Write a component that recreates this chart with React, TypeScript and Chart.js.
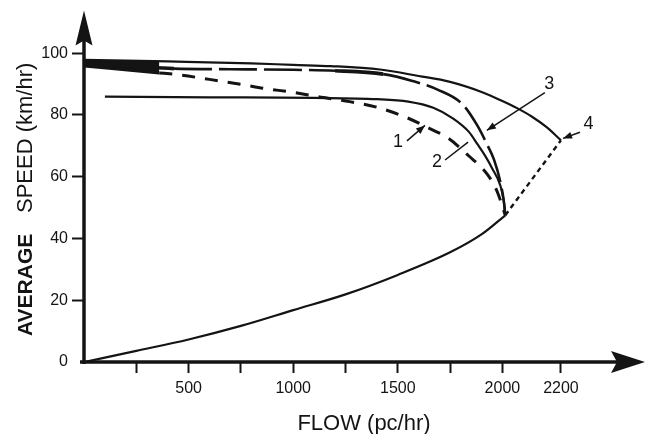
import React, { useEffect, useRef } from 'react';
import { Chart, LinearScale, registerables } from 'chart.js';

// Speed–flow relationships: flow in pc/hr, average speed in km/hr
const curve4Flow = [0, 400, 800, 1000, 1180, 1415, 1600, 1750, 1910, 2000, 2050, 2100, 2150, 2200];
const curve4Speed = [97.8, 97.3, 96.7, 96.2, 95.8, 94.7, 92.6, 90.7, 87.2, 84.5, 82.2, 79.5, 76.1, 71.8];
const curve4UnstableFlow = [2010, 2200];
const curve4UnstableSpeed = [47.5, 71.8];
const curve3Flow = [0, 430, 700, 1000, 1200, 1430, 1570, 1690, 1810, 1880, 1930, 1960, 1990, 2005, 2010];
const curve3Speed = [96.8, 95.0, 94.8, 94.6, 94.3, 93.2, 91.0, 88.2, 83.4, 76.6, 70.0, 65.5, 58.4, 52.0, 47.5];
const curve2Flow = [100, 600, 1100, 1400, 1550, 1670, 1765, 1840, 1880, 1920, 1952, 1990, 2005, 2010];
const curve2Speed = [85.9, 85.7, 85.5, 85.1, 84.3, 82.3, 78.8, 74.5, 70.6, 66.5, 62.6, 57.2, 52.0, 47.5];
const curve1Flow = [0, 360, 450, 600, 750, 870, 990, 1120, 1270, 1400, 1540, 1640, 1740, 1840, 1930, 1975, 2010];
const curve1Speed = [95.8, 93.6, 93.0, 91.5, 89.9, 88.5, 87.4, 85.9, 84.3, 82.5, 79.2, 76.0, 72.5, 66.7, 60.6, 55.2, 47.5];
const congestedFlow = [0, 250, 500, 750, 1000, 1250, 1500, 1750, 1900, 2010];
const congestedSpeed = [0, 3.6, 7.3, 11.7, 16.8, 21.9, 28.2, 35.5, 41.3, 47.5];

// Axis ticks
const X_TICKS = [250, 500, 750, 1000, 1250, 1500, 1750, 2000, 2200];
const X_LABELLED = [500, 1000, 1500, 2000, 2200];
const Y_TICKS = [0, 20, 40, 60, 80, 100];

// Curve call-outs: label text, label position, leader line start/end
const calloutText = ['1', '2', '3', '4'];
const calloutFlow = [1501, 1687, 2160, 2294];
const calloutSpeed = [71.2, 64.7, 90.0, 76.9];
const leaderFromFlow = [1544, 1726, 2145, 2265];
const leaderFromSpeed = [71.6, 65.4, 87.2, 74.4];
const leaderToFlow = [1630, 1836, 1926, 2207];
const leaderToSpeed = [76.6, 71.2, 75.0, 72.4];
const leaderHead = [true, false, true, true];

const INK = '#141414';
const FONT = '"Liberation Sans", Arial, Helvetica, sans-serif';

// The flow axis is stretched beyond 2000 pc/hr, as on the printed figure.
const BREAK_FLOW = 2000;
const STRETCH = 1.4;
const warp = (v: number) => (v <= BREAK_FLOW ? v : BREAK_FLOW + (v - BREAK_FLOW) * STRETCH);
const unwarp = (u: number) => (u <= BREAK_FLOW ? u : BREAK_FLOW + (u - BREAK_FLOW) / STRETCH);

class BrokenLinearScale extends LinearScale {
  static id = 'brokenLinear';
  static defaults = LinearScale.defaults;
  getPixelForValue(value: number) {
    if (value === null || value === undefined) return NaN;
    const a = warp(this.min);
    const b = warp(this.max);
    return this.getPixelForDecimal((warp(value) - a) / (b - a));
  }
  getValueForPixel(pixel: number) {
    const a = warp(this.min);
    const b = warp(this.max);
    return unwarp(a + this.getDecimalForPixel(pixel) * (b - a));
  }
}

Chart.register(...registerables, BrokenLinearScale);

const toPoints = (xs: number[], ys: number[]) => xs.map((x, i) => ({ x, y: ys[i] }));

function arrowHead(ctx: CanvasRenderingContext2D, x0: number, y0: number, x1: number, y1: number, len: number, half: number) {
  const ang = Math.atan2(y1 - y0, x1 - x0);
  ctx.beginPath();
  ctx.moveTo(x1, y1);
  ctx.lineTo(x1 - len * Math.cos(ang) + half * Math.sin(ang), y1 - len * Math.sin(ang) - half * Math.cos(ang));
  ctx.lineTo(x1 - len * Math.cos(ang) - half * Math.sin(ang), y1 - len * Math.sin(ang) + half * Math.cos(ang));
  ctx.closePath();
  ctx.fill();
}

const decorPlugin = {
  id: 'figureDecor',
  afterDatasetsDraw(chart: any) {
    const { ctx, chartArea } = chart;
    const { left, right, top, bottom } = chartArea;
    const xs = chart.scales.x;
    const ys = chart.scales.y;
    ctx.save();
    ctx.strokeStyle = INK;
    ctx.fillStyle = INK;

    // axes with arrowheads
    ctx.lineWidth = 3.5;
    ctx.beginPath();
    ctx.moveTo(left, bottom + 2);
    ctx.lineTo(left, top + 24);
    ctx.moveTo(left - 4, bottom);
    ctx.lineTo(right - 24, bottom);
    ctx.stroke();

    ctx.beginPath();
    ctx.moveTo(left, top - 3);
    ctx.lineTo(left + 8.5, top + 32);
    ctx.lineTo(left, top + 27);
    ctx.lineTo(left - 8.5, top + 32);
    ctx.closePath();
    ctx.fill();

    ctx.beginPath();
    ctx.moveTo(right, bottom);
    ctx.lineTo(right - 34, bottom - 11);
    ctx.lineTo(right - 28, bottom);
    ctx.lineTo(right - 34, bottom + 11);
    ctx.closePath();
    ctx.fill();

    // call-out labels and leader lines
    ctx.lineWidth = 1.5;
    ctx.font = `18px ${FONT}`;
    ctx.textAlign = 'center';
    ctx.textBaseline = 'middle';
    calloutText.forEach((t, i) => {
      ctx.fillText(t, xs.getPixelForValue(calloutFlow[i]), ys.getPixelForValue(calloutSpeed[i]));
      const x0 = xs.getPixelForValue(leaderFromFlow[i]);
      const y0 = ys.getPixelForValue(leaderFromSpeed[i]);
      const x1 = xs.getPixelForValue(leaderToFlow[i]);
      const y1 = ys.getPixelForValue(leaderToSpeed[i]);
      ctx.beginPath();
      ctx.moveTo(x0, y0);
      ctx.lineTo(x1, y1);
      ctx.stroke();
      if (leaderHead[i]) arrowHead(ctx, x0, y0, x1, y1, 9, 3.5);
    });
    ctx.restore();
  },
  afterDraw(chart: any) {
    const { ctx } = chart;
    ctx.save();
    ctx.fillStyle = INK;
    // vertical axis title
    ctx.translate(32, 336);
    ctx.rotate(-Math.PI / 2);
    ctx.textAlign = 'left';
    ctx.textBaseline = 'alphabetic';
    ctx.font = `bold 21px ${FONT}`;
    ctx.fillText('AVERAGE', 0, 0);
    ctx.font = `22px ${FONT}`;
    ctx.fillText('SPEED (km/hr)', 123, 0);
    ctx.restore();

    ctx.save();
    ctx.fillStyle = INK;
    ctx.font = `22px ${FONT}`;
    ctx.textAlign = 'center';
    ctx.textBaseline = 'alphabetic';
    ctx.fillText('FLOW (pc/hr)', 364, 430);
    ctx.restore();
  },
};

export default function App() {
  const ref = useRef<HTMLCanvasElement>(null);

  useEffect(() => {
    const canvas = ref.current;
    if (!canvas) return;
    const base = {
      borderColor: INK,
      pointRadius: 0,
      pointHoverRadius: 0,
      fill: false,
      cubicInterpolationMode: 'monotone' as const,
    };
    const chart = new Chart(canvas, {
      type: 'line',
      data: {
        datasets: [
          { ...base, label: '4', data: toPoints(curve4Flow, curve4Speed), borderWidth: 2.2 },
          {
            ...base,
            label: '4 unstable',
            data: toPoints(curve4UnstableFlow, curve4UnstableSpeed),
            borderWidth: 2.4,
            borderDash: [5, 4],
            cubicInterpolationMode: 'default',
            tension: 0,
          },
          {
            ...base,
            label: '3',
            data: toPoints(curve3Flow, curve3Speed),
            borderWidth: 2.6,
            borderDash: [38, 7],
            segment: {
              borderDash: (c: any) => (c.p0DataIndex === 0 || c.p0DataIndex === 4 ? [] : [38, 7]),
              borderWidth: (c: any) => (c.p0DataIndex === 0 || c.p0DataIndex === 4 ? 3.6 : 2.6),
            },
          },
          { ...base, label: '2', data: toPoints(curve2Flow, curve2Speed), borderWidth: 2.2 },
          {
            ...base,
            label: '1',
            data: toPoints(curve1Flow, curve1Speed),
            borderWidth: 3,
            borderDash: [13, 10],
            fill: 0,
            backgroundColor: 'transparent',
            segment: {
              borderDash: (c: any) => (c.p0DataIndex === 0 ? [] : [13, 10]),
              backgroundColor: (c: any) => (c.p0DataIndex === 0 ? INK : 'transparent'),
            },
          },
          { ...base, label: 'congested', data: toPoints(congestedFlow, congestedSpeed), borderWidth: 2.2 },
        ],
      },
      options: {
        responsive: false,
        devicePixelRatio: 1,
        animation: false,
        events: [],
        layout: { padding: { left: 0, right: 2, top: 10, bottom: 0 } },
        plugins: {
          legend: { display: false },
          tooltip: { enabled: false },
          title: { display: false },
        },
        scales: {
          x: {
            type: 'brokenLinear' as any,
            min: 0,
            max: 2487,
            afterBuildTicks: (s: any) => {
              s.ticks = X_TICKS.map((v) => ({ value: v }));
            },
            afterFit: (s: any) => {
              s.height = 72;
            },
            border: { display: false },
            grid: {
              drawOnChartArea: false,
              drawTicks: true,
              tickLength: 11,
              tickColor: INK,
              tickWidth: 2,
            },
            ticks: {
              padding: 6,
              color: INK,
              font: { family: FONT, size: 16 },
              maxRotation: 0,
              autoSkip: false,
              callback: (v: any) => (X_LABELLED.includes(Number(v)) ? String(v) : ''),
            },
          },
          y: {
            type: 'linear',
            min: 0,
            max: 112.8,
            afterBuildTicks: (s: any) => {
              s.ticks = Y_TICKS.map((v) => ({ value: v }));
            },
            afterFit: (s: any) => {
              s.width = 84;
            },
            border: { display: false },
            grid: {
              drawOnChartArea: false,
              drawTicks: true,
              tickLength: 12,
              tickColor: (c: any) => (c.tick && c.tick.value === 0 ? 'rgba(0,0,0,0)' : INK),
              tickWidth: 2,
            },
            ticks: {
              padding: 4,
              color: INK,
              font: { family: FONT, size: 16 },
              autoSkip: false,
              callback: (v: any) => String(v),
            },
          },
        },
      } as any,
      plugins: [decorPlugin],
    });
    return () => chart.destroy();
  }, []);

  return (
    <div style={{ position: 'fixed', left: 0, top: 0, width: 647, height: 434, background: '#fff' }}>
      <canvas ref={ref} width={647} height={434} style={{ display: 'block', width: 647, height: 434 }} />
    </div>
  );
}
